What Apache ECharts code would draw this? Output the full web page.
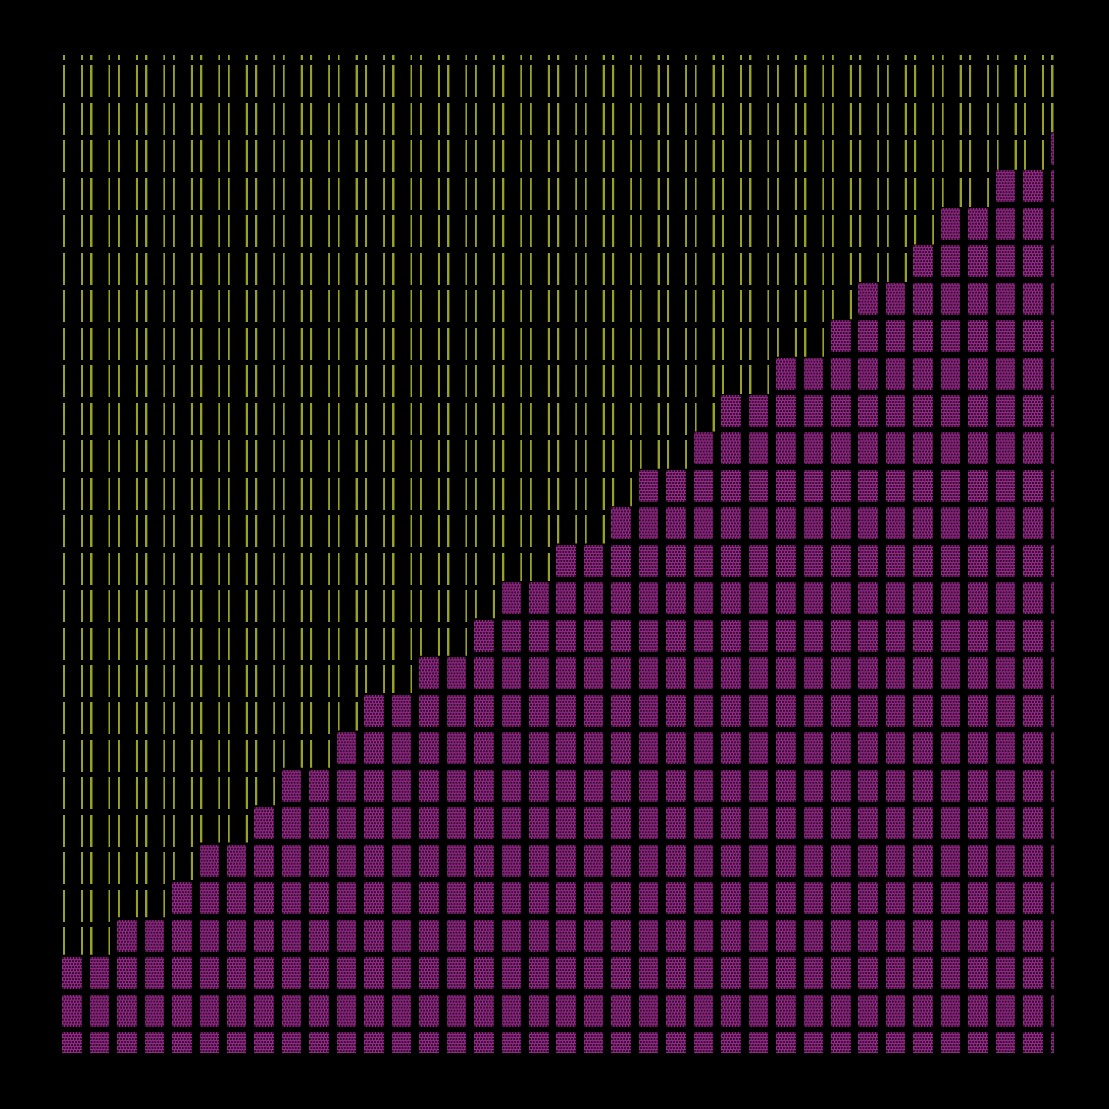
<!DOCTYPE html>
<html><head><meta charset="utf-8">
<script src="https://cdn.jsdelivr.net/npm/echarts@6/dist/echarts.min.js"></script>
<style>html,body{margin:0;padding:0;background:#000}#c{width:1109px;height:1109px}</style>
</head><body><div id="c"></div>
<script>
// column index (x value) for each bar
const columns = [0,1,2,3,4,5,6,7,8,9,10,11,12,13,14,15,16,17,18,19,20,21,22,23,24,25,26,27,28,29,30,31,32,33,34,35,36];
// filled (purple) blocks per column
const filledBlocks = [3,3,4,4,5,6,6,7,8,8,9,10,10,11,11,12,13,13,14,14,15,16,16,17,18,18,19,19,20,21,21,22,23,23,24,24,25];
// total blocks per column (filled + empty)
const totalBlocks = columns.map(() => 28);

function makeBlockImage() {
  const c = document.createElement('canvas');
  c.width = 20; c.height = 32;
  const g = c.getContext('2d');
  g.fillStyle = '#962b8a';
  g.fillRect(0, 0, 20, 32);
  g.fillStyle = '#360c31';
  for (let r = 0; r * 3 < 32; r++) {
    const off = (r % 2) ? 1 : 0;
    for (let x = off - 3; x < 20; x += 3) g.fillRect(x, r * 3, 2, 2);
  }
  return c.toDataURL();
}
function makeSlotImage() {
  const c = document.createElement('canvas');
  c.width = 20; c.height = 32;
  const g = c.getContext('2d');
  g.fillStyle = '#99a124';
  g.fillRect(0, 0, 2, 32);
  g.fillRect(18, 0, 2, 32);
  return c.toDataURL();
}
const blockImg = 'image://' + makeBlockImage();
const slotImg = 'image://' + makeSlotImage();

const chart = echarts.init(document.getElementById('c'), null, {renderer: 'canvas'});
chart.setOption({
  backgroundColor: '#000',
  animation: false,
  grid: {left: 62, right: 55.7, top: 55, bottom: 56},
  xAxis: {type: 'value', min: -0.364, max: 35.74, show: false},
  yAxis: {type: 'value', min: 0.369, max: 27.07, show: false},
  series: [
    {
      type: 'pictorialBar', clip: true, z: 1,
      symbol: slotImg, symbolRepeat: true, symbolSize: [20, 32],
      symbolMargin: '2.75!', symbolOffset: [1, 7.7],
      data: columns.map((c, i) => [c, totalBlocks[i]])
    },
    {
      type: 'bar', clip: true, z: 2, barWidth: 26, barGap: '-100%',
      itemStyle: {color: '#000'},
      data: columns.map((c, i) => [c, filledBlocks[i]])
    },
    {
      type: 'pictorialBar', clip: true, z: 3,
      symbol: blockImg, symbolRepeat: true, symbolSize: [19.5, 32], symbolMargin: '2.75!',
      data: columns.map((c, i) => [c, filledBlocks[i]])
    }
  ]
});
</script></body></html>
